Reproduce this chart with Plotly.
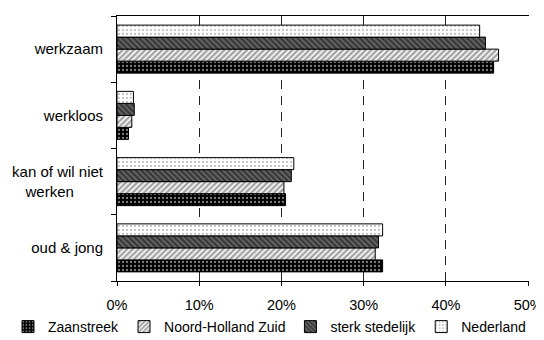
import plotly.graph_objects as go

categories = ["werkzaam", "werkloos", "kan of wil niet<br>werken\u00a0\u00a0\u00a0\u00a0\u00a0\u00a0\u00a0", "oud & jong"]
series_names = ["Zaanstreek", "Noord-Holland Zuid", "sterk stedelijk", "Nederland"]
zaanstreek = [45.8, 1.4, 20.5, 32.3]
noord_holland_zuid = [46.4, 1.8, 20.3, 31.4]
sterk_stedelijk = [44.8, 2.1, 21.2, 31.8]
nederland = [44.1, 2.0, 21.5, 32.3]
x_ticks = [0, 10, 20, 30, 40, 50]
x_tick_labels = ["0%", "10%", "20%", "30%", "40%", "50%"]

values = [zaanstreek, noord_holland_zuid, sterk_stedelijk, nederland]
patterns = [
    dict(shape=".", bgcolor="#000000", fgcolor="#ffffff", size=4, solidity=0.25),
    dict(shape="/", bgcolor="#ffffff", fgcolor="#444444", size=4, solidity=0.6),
    dict(shape="\\", bgcolor="#666666", fgcolor="#000000", size=4, solidity=0.5),
    dict(shape=".", bgcolor="#ffffff", fgcolor="#888888", size=4, solidity=0.25),
]

fig = go.Figure()
for name, vals, pat in zip(series_names, values, patterns):
    fig.add_trace(go.Bar(
        y=categories, x=vals, name=name, orientation="h",
        marker=dict(color=pat["bgcolor"], pattern=pat,
                    line=dict(color="#000000", width=1)),
    ))

# page body has an 8px margin, so the figure is 8px smaller than the window
fig.update_layout(
    width=536, height=332,
    barmode="group", bargap=0.275, bargroupgap=0,
    margin=dict(l=109, r=15, t=8, b=59, autoexpand=False),
    paper_bgcolor="white", plot_bgcolor="white",
    font=dict(family="Liberation Sans, Arial, sans-serif", size=14, color="#000000"),
    legend=dict(orientation="h", xref="paper", yref="paper",
                x=-0.2646, xanchor="left", y=-0.1736, yanchor="middle",
                font=dict(size=14), traceorder="normal", itemwidth=30),
    xaxis=dict(range=[0, 50.1], tickvals=x_ticks, ticktext=x_tick_labels,
               tickfont=dict(size=14.5),
               showgrid=True, gridcolor="#222222", griddash="9px,7px", gridwidth=1,
               zeroline=False, showline=True, linecolor="#000000", linewidth=1,
               mirror=True, ticks="outside", ticklen=4, tickcolor="#000000",
               ticklabelstandoff=7),
    yaxis=dict(type="category", categoryorder="array", categoryarray=categories[::-1],
               tickfont=dict(size=15),
               showline=True, linecolor="#000000", linewidth=1,
               ticks="outside", tickson="boundaries", ticklen=5, tickcolor="#000000",
               showgrid=False, ticklabelstandoff=10),
)

fig.write_html("out.html")
